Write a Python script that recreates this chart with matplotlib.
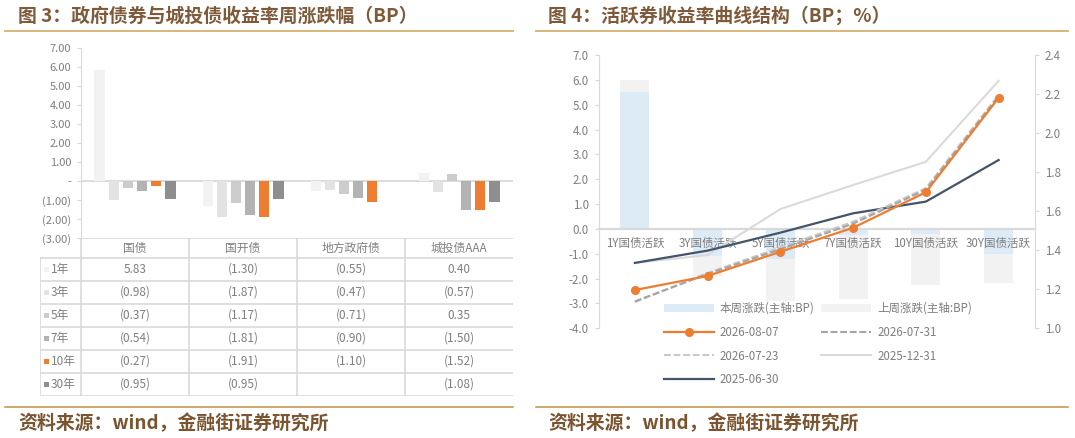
import numpy as np
import matplotlib
matplotlib.use("Agg")
import matplotlib.pyplot as plt
from matplotlib.patches import Rectangle

plt.rcParams["font.family"] = ["Noto Sans CJK SC", "DejaVu Sans"]
plt.rcParams["axes.unicode_minus"] = False

W, H = 1075, 438

# ---- 图3 data ----
bond_types = ["国债", "国开债", "地方政府债", "城投债AAA"]
tenors = ["1年", "3年", "5年", "7年", "10年", "30年"]
chg_1y = [5.83, -1.30, -0.55, 0.40]
chg_3y = [-0.98, -1.87, -0.47, -0.57]
chg_5y = [-0.37, -1.17, -0.71, 0.35]
chg_7y = [-0.54, -1.81, -0.90, -1.50]
chg_10y = [-0.27, -1.91, -1.10, -1.52]
chg_30y = [-0.95, -0.95, np.nan, -1.08]
tenor_colors = ["#F2F2F2", "#E3E3E3", "#CCCCCC", "#B3B3B3", "#ED7D31", "#8E8E8E"]

# ---- 图4 data ----
curve_labels = ["1Y国债活跃", "3Y国债活跃", "5Y国债活跃", "7Y国债活跃", "10Y国债活跃", "30Y国债活跃"]
this_week = [5.52, -1.08, -1.20, -0.25, -0.22, -0.99]
last_week = [6.00, -1.90, -2.92, -2.82, -2.25, -2.19]
y_20260807 = [1.196, 1.268, 1.392, 1.515, 1.697, 2.181]
y_20260731 = [1.138, 1.278, 1.405, 1.536, 1.710, 2.188]
y_20260723 = [1.134, 1.284, 1.414, 1.546, 1.718, 2.196]
y_20251231 = [1.335, 1.375, 1.611, 1.734, 1.853, 2.268]
y_20250630 = [1.335, 1.398, 1.490, 1.589, 1.649, 1.862]

TITLE_C = "#7E5A3A"
GRID_C = "#D9D9D9"
TXT_C = "#7F7F7F"

fig = plt.figure(figsize=(W / 100, H / 100), dpi=100)


def px_axes(left, top, right, bottom):
  return fig.add_axes([left / W, 1 - bottom / H, (right - left) / W, (bottom - top) / H])


def fmt_acct(v, nd=2):
  if np.isnan(v):
    return ""
  if abs(v) < 1e-9:
    return "-"
  if v < 0:
    return f"({abs(v):.{nd}f})"
  return f"{v:.{nd}f}"


# ---------------- 图3: bars + data table ----------------
ax1 = px_axes(81, 48, 513, 238)
x = np.arange(len(bond_types))
series = [chg_1y, chg_3y, chg_5y, chg_7y, chg_10y, chg_30y]
step, bw = 0.13, 0.10
for i, (vals, col) in enumerate(zip(series, tenor_colors)):
  ax1.bar(x + (i - 2.5) * step, vals, width=bw, color=col, zorder=2)
ax1.axhline(0, color=GRID_C, lw=1.3, zorder=1)
ax1.set_xlim(-0.5, 3.5)
ax1.set_ylim(-3, 7)
yt = np.arange(-3, 8)
ax1.set_yticks(yt)
ax1.set_yticklabels([fmt_acct(float(v)) for v in yt])
ax1.tick_params(axis="y", color=GRID_C, labelcolor=TXT_C, labelsize=8, length=3, pad=4)
ax1.set_xticks([])
for s in ["top", "right", "bottom"]:
  ax1.spines[s].set_visible(False)
ax1.spines["left"].set_color(GRID_C)
ax1.patch.set_alpha(0)

# table below, sharing category positions
lab_w = 41 / 108
tab = px_axes(40, 238, 513, 396)
tab.set_xlim(-0.5 - lab_w, 3.5)
hdr_h, row_h = 20, 23
tab.set_ylim(hdr_h + row_h * len(tenors), 0)
tab.axis("off")
left_edge = -0.5 - lab_w
tab.plot([-0.5, 3.5], [0, 0], color=GRID_C, lw=1.2)
for k in range(len(tenors) + 1):
  yy = hdr_h + k * row_h
  tab.plot([left_edge, 3.5], [yy, yy], color=GRID_C, lw=1.2)
tab.plot([left_edge, left_edge], [hdr_h, hdr_h + row_h * len(tenors)], color=GRID_C, lw=1.2)
for c in range(len(bond_types)):
  tab.plot([c - 0.5, c - 0.5], [0, hdr_h + row_h * len(tenors)], color=GRID_C, lw=1.2)
for c, name in enumerate(bond_types):
  tab.text(c, hdr_h / 2, name, ha="center", va="center", fontsize=8.5, color=TXT_C)
for r, (tn, vals, col) in enumerate(zip(tenors, series, tenor_colors)):
  yc = hdr_h + (r + 0.5) * row_h
  tab.add_patch(Rectangle((left_edge + 0.04, yc - 2.5), 0.045, 5, color=col, lw=0))
  tab.text(left_edge + 0.1, yc, tn, ha="left", va="center", fontsize=8.5, color=TXT_C)
  for c, v in enumerate(vals):
    tab.text(c, yc, fmt_acct(float(v)), ha="center", va="center", fontsize=8.5, color=TXT_C)

# ---------------- 图4: curve structure ----------------
ax3 = px_axes(598.5, 55, 1035, 328.3)
xc = np.arange(len(curve_labels))
b_last = ax3.bar(xc, last_week, width=0.4, color="#F2F2F2", zorder=1, label="上周涨跌(主轴:BP)")
b_this = ax3.bar(xc, this_week, width=0.4, color="#DDEBF7", zorder=1.1, label="本周涨跌(主轴:BP)")
ax3.set_xlim(-0.5, 5.5)
ax3.set_ylim(-4, 7)
ax3.set_yticks(np.arange(-4, 8))
ax3.set_yticklabels([f"{v:.1f}" for v in np.arange(-4, 8)])
ax3.set_xticks(xc)
ax3.set_xticklabels(curve_labels)
ax3.tick_params(axis="x", length=0, pad=6, labelsize=8.3, labelcolor=TXT_C)
ax3.tick_params(axis="y", color=GRID_C, labelcolor=TXT_C, labelsize=8.3, length=3, pad=4)
ax3.spines["bottom"].set_position(("data", 0))
ax3.spines["bottom"].set_color(GRID_C)
ax3.spines["bottom"].set_linewidth(1.6)
ax3.spines["left"].set_color(GRID_C)
ax3.spines["top"].set_visible(False)
ax3.spines["right"].set_visible(False)

ax4 = ax3.twinx()
ax4.set_ylim(1.0, 2.4)
rt = np.arange(1.0, 2.41, 0.2)
ax4.set_yticks(rt)
ax4.set_yticklabels([f"{v:.1f}" for v in rt])
ax4.tick_params(axis="y", color=GRID_C, labelcolor=TXT_C, labelsize=8.3, length=3, pad=4)
for s in ["top", "left", "bottom"]:
  ax4.spines[s].set_visible(False)
ax4.spines["right"].set_color(GRID_C)

l_1231, = ax4.plot(xc, y_20251231, color="#DADADA", lw=1.5, label="2025-12-31")
l_0630, = ax4.plot(xc, y_20250630, color="#44546A", lw=1.6, label="2025-06-30")
l_0723, = ax4.plot(xc, y_20260723, color="#C9C9C9", lw=1.5, dashes=(3.3, 1.3), label="2026-07-23")
l_0731, = ax4.plot(xc, y_20260731, color="#A5A5A5", lw=1.5, dashes=(3.3, 1.3), label="2026-07-31")
l_0807, = ax4.plot(xc, y_20260807, color="#ED7D31", lw=1.6, marker="o", ms=5.5, label="2026-08-07")

# legend row-major order -> column-major handles
order = [b_this, l_0807, l_0723, l_0630, b_last, l_0731, l_1231]
fig.legend(order, [h.get_label() for h in order], ncol=2, loc="upper left",
           bbox_to_anchor=(659 / W, 1 - 297 / H), frameon=False, fontsize=8.3,
           labelcolor=TXT_C, handlelength=4.35, handletextpad=0.5,
           columnspacing=0.6, labelspacing=0.95, borderaxespad=0)

# ---------------- titles, rules, sources ----------------
fig.add_artist(plt.Line2D([5 / W, 513 / W], [1 - 31 / H] * 2, color="#D8B67C", lw=1.4))
fig.add_artist(plt.Line2D([536 / W, 1068 / W], [1 - 31 / H] * 2, color="#D8B67C", lw=1.4))
fig.add_artist(plt.Line2D([5 / W, 513 / W], [1 - 406.5 / H] * 2, color="#C4923F", lw=1.1))
fig.add_artist(plt.Line2D([536 / W, 1068 / W], [1 - 406.5 / H] * 2, color="#C4923F", lw=1.1))

fig.text(18 / W, 1 - 16 / H, "图 3：政府债券与城投债收益率周涨跌幅（BP）", fontsize=13.6,
         fontweight="bold", color=TITLE_C, ha="left", va="center")
fig.text(548 / W, 1 - 16 / H, "图 4：活跃券收益率曲线结构（BP；%）", fontsize=13.6,
         fontweight="bold", color=TITLE_C, ha="left", va="center")
fig.text(18 / W, 1 - 423 / H, "资料来源：wind，金融街证券研究所", fontsize=13.6,
         fontweight="bold", color="#7A5530", ha="left", va="center")
fig.text(548 / W, 1 - 423 / H, "资料来源：wind，金融街证券研究所", fontsize=13.6,
         fontweight="bold", color="#7A5530", ha="left", va="center")

fig.savefig("out.png", dpi=100, facecolor="white")
